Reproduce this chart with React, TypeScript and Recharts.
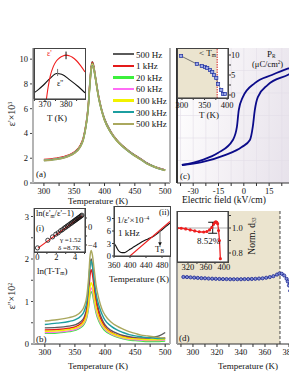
import React from "react";
import {
  LineChart,
  Line,
  XAxis,
  YAxis,
  ReferenceArea,
  ReferenceLine,
  ReferenceDot,
} from "recharts";

const FONT = '"Liberation Serif", "Times New Roman", serif';

// ---------- (a) / (b) frequency series ----------
const freqNames = ["500 Hz", "1 kHz", "20 kHz", "60 kHz", "100 kHz", "300 kHz", "500 kHz"];
const freqColors = ["#5a5a5a", "#e41a1a", "#3cf03c", "#ff6cf5", "#f2f200", "#1c9ea0", "#aaa85e"];

const tempA = [300, 320, 340, 350, 360, 365, 370, 373, 376, 378, 380, 382, 385, 390, 395, 400, 410, 420, 430, 440, 450, 460, 470, 480, 490, 500];
const epsA_500Hz = [1.85, 1.95, 2.2, 2.45, 3.0, 3.6, 4.9, 6.2, 8.3, 9.4, 9.8, 9.5, 8.6, 7.1, 6.0, 5.2, 4.2, 3.5, 3.0, 2.6, 2.25, 1.95, 1.62, 1.38, 1.2, 1.05];
const epsA_1k = [1.9, 2.0, 2.24, 2.5, 3.05, 3.65, 4.95, 6.2, 8.25, 9.35, 9.75, 9.45, 8.55, 7.05, 5.95, 5.15, 4.15, 3.47, 2.98, 2.58, 2.23, 1.93, 1.6, 1.37, 1.19, 1.05];
const epsA_20k = [1.85, 1.95, 2.19, 2.44, 2.98, 3.56, 4.85, 6.1, 8.15, 9.25, 9.65, 9.38, 8.5, 7.0, 5.92, 5.12, 4.13, 3.45, 2.96, 2.56, 2.21, 1.92, 1.59, 1.36, 1.18, 1.04];
const epsA_60k = [1.84, 1.94, 2.18, 2.43, 2.96, 3.54, 4.82, 6.05, 8.1, 9.2, 9.6, 9.34, 8.47, 6.98, 5.9, 5.1, 4.12, 3.44, 2.95, 2.55, 2.2, 1.91, 1.58, 1.35, 1.17, 1.03];
const epsA_100k = [1.83, 1.93, 2.17, 2.42, 2.95, 3.52, 4.8, 6.0, 8.05, 9.15, 9.55, 9.3, 8.45, 6.96, 5.88, 5.08, 4.1, 3.43, 2.94, 2.54, 2.19, 1.9, 1.57, 1.34, 1.16, 1.03];
const epsA_300k = [1.82, 1.92, 2.16, 2.41, 2.93, 3.5, 4.77, 5.95, 8.0, 9.1, 9.5, 9.26, 8.42, 6.94, 5.86, 5.06, 4.09, 3.42, 2.93, 2.53, 2.18, 1.89, 1.56, 1.33, 1.15, 1.02];
const epsA_500k = [1.8, 1.9, 2.14, 2.39, 2.9, 3.47, 4.73, 5.9, 7.95, 9.05, 9.45, 9.22, 8.4, 6.92, 5.84, 5.04, 4.08, 3.41, 2.92, 2.52, 2.17, 1.88, 1.55, 1.32, 1.14, 1.01];

const tempB = [300, 320, 340, 350, 360, 365, 370, 373, 375, 377, 379, 382, 385, 390, 395, 400, 410, 420, 430, 440, 450, 460, 470, 480, 490, 500];
const lossB_500Hz = [0.38, 0.39, 0.42, 0.45, 0.53, 0.62, 0.88, 1.35, 1.85, 2.0, 1.85, 1.45, 1.1, 0.78, 0.58, 0.45, 0.32, 0.25, 0.2, 0.17, 0.15, 0.14, 0.14, 0.16, 0.19, 0.27];
const lossB_1k = [0.33, 0.34, 0.37, 0.4, 0.48, 0.57, 0.8, 1.2, 1.6, 1.75, 1.65, 1.32, 1.0, 0.7, 0.52, 0.4, 0.28, 0.21, 0.17, 0.14, 0.12, 0.11, 0.11, 0.11, 0.12, 0.14];
const lossB_20k = [0.25, 0.26, 0.29, 0.32, 0.39, 0.46, 0.63, 0.88, 1.14, 1.23, 1.18, 0.96, 0.74, 0.53, 0.4, 0.31, 0.22, 0.16, 0.12, 0.09, 0.08, 0.07, 0.06, 0.06, 0.06, 0.07];
const lossB_60k = [0.27, 0.28, 0.31, 0.34, 0.41, 0.49, 0.67, 0.93, 1.22, 1.32, 1.27, 1.03, 0.8, 0.57, 0.43, 0.34, 0.24, 0.18, 0.14, 0.11, 0.1, 0.09, 0.08, 0.08, 0.08, 0.09];
const lossB_100k = [0.3, 0.31, 0.34, 0.37, 0.44, 0.52, 0.72, 1.0, 1.32, 1.44, 1.38, 1.12, 0.87, 0.62, 0.47, 0.37, 0.26, 0.2, 0.16, 0.13, 0.12, 0.11, 0.1, 0.1, 0.1, 0.11];
const lossB_300k = [0.46, 0.49, 0.53, 0.57, 0.66, 0.76, 1.02, 1.45, 1.85, 1.95, 1.85, 1.5, 1.2, 0.9, 0.7, 0.56, 0.42, 0.33, 0.27, 0.22, 0.19, 0.17, 0.15, 0.14, 0.13, 0.13];
const lossB_500k = [0.54, 0.57, 0.62, 0.66, 0.76, 0.87, 1.15, 1.6, 2.05, 2.2, 2.1, 1.75, 1.4, 1.05, 0.82, 0.68, 0.52, 0.42, 0.35, 0.29, 0.25, 0.21, 0.19, 0.17, 0.15, 0.14];

// inset (a): eps' and eps'' near Tm
const insRedT = [370.7, 371.5, 372.5, 374, 375.5, 377, 378.5, 380, 381.5, 383, 385, 387, 389];
const insRedV = [0, 2.3, 4.5, 6.4, 7.5, 8.1, 8.45, 8.6, 8.5, 8.2, 7.5, 6.5, 5.3];
const insBlkT = [364.8, 367, 369.2, 372.4, 375.6, 377.9, 381.9, 385.9, 389];
const insBlkV = [1.2, 1.9, 2.7, 4.05, 5.0, 4.85, 3.7, 2.4, 1.2];

// inset (i): modified Curie-Weiss fit
const cwX = [0, 1.1, 1.6, 1.95, 2.2, 2.45, 2.65, 2.85, 3.0, 3.15, 3.3, 3.45, 3.6, 3.72, 3.85, 3.95, 4.05, 4.15, 4.25, 4.35, 4.45, 4.55, 4.65, 4.72];
const cwY = [-4.65, -2.95, -2.2, -1.6, -1.3, -0.85, -0.6, -0.25, -0.05, 0.2, 0.4, 0.66, 0.85, 1.07, 1.23, 1.42, 1.55, 1.73, 1.85, 2.03, 2.15, 2.34, 2.46, 2.62];
const cwFitX = [0.05, 4.75];
const cwFitY = [-4.7, 2.52];

// inset (ii): 1/eps'
const invT = [360, 364, 368, 372, 376, 380, 386, 392, 400, 410, 420, 430, 440, 450, 460, 470, 480, 490, 500];
const invV = [3.1, 2.5, 1.8, 1.2, 0.9, 0.8, 0.8, 1.1, 1.6, 2.2, 2.8, 3.4, 3.9, 4.3, 4.8, 5.5, 6.3, 7.1, 7.9];
const invFitT = [400, 500];
const invFitV = [0, 8.3];

// (c): P-E loop
const upperE = [-36.7, -24.9, -15.4, -6.5, -4.1, -3.0, -0.6, 6.5, 16.6, 26.0, 40];
const upperP = [-22.0, -19.8, -16.7, -10.9, -5.1, 2.4, 8.2, 14.4, 18.0, 20.8, 23.5];
const lowerE = [-36.7, -24.9, -11.2, -1.2, 3.6, 5.3, 6.5, 8.3, 14.2, 26.0, 40];
const lowerP = [-22.0, -20.7, -17.6, -14.0, -10.9, -5.1, 2.4, 8.2, 13.6, 18.0, 23.5];
const gridE = [-37.5, -30, -22.5, -15, -7.5, 0, 7.5, 15, 22.5, 30, 37.5];
const gridP = [-20, -10, 0, 10, 20];

// inset (c): remnant polarization vs T
const prT = [298, 333, 344, 351, 356, 362, 367, 371, 376, 380, 387, 391, 395];
const prV = [9.75, 7.75, 7.25, 7.0, 6.75, 6.25, 5.75, 5.0, 4.25, 2.75, 1.25, 0.25, 0.25];

// (d): d33 vs T
const d33T = [292, 295, 298, 301, 304, 307, 310, 313, 316, 319, 322, 325, 328, 331, 334, 337, 340, 343, 346, 349, 352, 355, 358, 361, 364, 367, 370, 372, 374, 376, 378, 379, 380, 381, 383];
const d33V = [0.504, 0.503, 0.501, 0.499, 0.497, 0.495, 0.494, 0.492, 0.491, 0.49, 0.489, 0.488, 0.488, 0.487, 0.487, 0.487, 0.487, 0.488, 0.488, 0.489, 0.49, 0.492, 0.494, 0.498, 0.503, 0.51, 0.522, 0.53, 0.528, 0.515, 0.49, 0.47, 0.44, 0.4, 0.33];

// inset (d): normalised d33
const ndT = [296, 305, 315, 325, 335, 345, 355, 362, 368, 373, 377, 380, 382, 384, 386, 388, 390, 392];
const ndV = [1.0, 0.998, 0.993, 0.985, 0.977, 0.97, 0.968, 0.972, 0.985, 1.005, 1.03, 1.045, 1.05, 1.046, 1.035, 0.98, 0.9, 0.755];

// ---------- helpers ----------
const seriesA = [epsA_500Hz, epsA_1k, epsA_20k, epsA_60k, epsA_100k, epsA_300k, epsA_500k];
const seriesB = [lossB_500Hz, lossB_1k, lossB_20k, lossB_60k, lossB_100k, lossB_300k, lossB_500k];

function table(xs: number[], cols: number[][]) {
  return xs.map((x, i) => {
    const r: any = { x };
    cols.forEach((c, k) => (r["s" + k] = c[i]));
    return r;
  });
}
function pairs(xs: number[], ys: number[]) {
  return xs.map((x, i) => ({ x, y: ys[i] }));
}

const tk = { fontSize: 8.5, fill: "#111", fontFamily: FONT };
const TAN = "#ebe4cf";
const tickT = [300, 325, 350, 375, 400, 425, 450, 475, 500];
const only = (step: number) => (v: number) => (Math.abs(v % step) < 1e-6 ? String(v) : "");

function Box({ x, y, children }: any) {
  return <div style={{ position: "absolute", left: x, top: y }}>{children}</div>;
}
function Rect({ x, y, w, h, style }: any) {
  return (
    <div
      style={{ position: "absolute", left: x, top: y, width: w, height: h, boxSizing: "border-box", pointerEvents: "none", ...style }}
    />
  );
}
function Txt({ x, y, s = 9, c = "#111", mid = false, rot = false, children }: any) {
  const tf = rot ? "translate(-50%,-50%) rotate(-90deg)" : mid ? "translate(-50%,-50%)" : "translateY(-50%)";
  return (
    <div style={{ position: "absolute", left: x, top: y, fontSize: s, color: c, whiteSpace: "nowrap", lineHeight: 1, transform: tf, fontFamily: FONT }}>
      {children}
    </div>
  );
}
const sub = (t: string) => <sub style={{ fontSize: "0.6em", verticalAlign: "-0.25em" }}>{t}</sub>;
const sup = (t: string) => <sup style={{ fontSize: "0.6em", verticalAlign: "0.5em" }}>{t}</sup>;

const squareDot = (p: any) => (
  <rect key={p.index} x={p.cx - 1.6} y={p.cy - 1.6} width={3.2} height={3.2} fill="#9aa6e6" stroke="#1f2f9f" strokeWidth={0.7} />
);

export default function App() {
  const rowsA = table(tempA, seriesA);
  const rowsB = table(tempB, seriesB);

  return (
    <div style={{ position: "absolute", left: 0, top: 0, width: 289, height: 374, overflow: "hidden", background: "#fff", fontFamily: FONT }}>
      {/* ===== (a) ===== */}
      <Box x={0} y={40}>
        <LineChart width={175} height={170} data={rowsA} margin={{ top: 8, right: 5, left: 0, bottom: 0 }}>
          <XAxis dataKey="x" type="number" domain={[282, 508]} ticks={tickT} interval={0} tickFormatter={only(50)} height={27} tick={tk} tickSize={3} stroke="#333" allowDataOverflow />
          <YAxis type="number" domain={[0, 10.9]} ticks={[0, 2, 4, 6, 8, 10]} interval={0} width={33} tick={tk} tickSize={3} stroke="#444" axisLine={false} allowDataOverflow />
          {freqNames.map((n, k) => (
            <Line key={n} dataKey={"s" + k} type="monotone" stroke={freqColors[k]} strokeWidth={1.4} dot={false} isAnimationActive={false} />
          ))}
        </LineChart>
      </Box>
      <Rect x={32} y={48} w={139} h={135} style={{ borderLeft: "2px solid #b4b4b4", borderRight: "2px solid #b4b4b4" }} />
      {/* inset (a) */}
      <Rect x={34} y={48} w={51} h={51} style={{ background: "#fff" }} />
      <Box x={24} y={44}>
        <LineChart width={66} height={68} margin={{ top: 4, right: 5, left: 0, bottom: 0 }}>
          <XAxis dataKey="x" type="number" domain={[364.8, 389]} ticks={[365, 370, 375, 380, 385]} interval={0} tickFormatter={only(10)} height={13} tick={tk} tickSize={2} tickMargin={0} stroke="#333" allowDataOverflow />
          <YAxis type="number" domain={[0, 10]} ticks={[2, 5, 8]} tick={false} width={10} tickSize={2} stroke="#333" allowDataOverflow />
          <Line data={pairs(insBlkT, insBlkV)} dataKey="y" type="monotone" stroke="#111" strokeWidth={1.1} dot={false} isAnimationActive={false} />
          <Line data={pairs(insRedT, insRedV)} dataKey="y" type="monotone" stroke="#f01c1c" strokeWidth={1.1} dot={false} isAnimationActive={false} />
          <ReferenceLine segment={[{ x: 380, y: 7.8 }, { x: 380, y: 9.3 }]} stroke="#111" strokeWidth={1} />
          <ReferenceLine segment={[{ x: 376, y: 4.5 }, { x: 376, y: 5.9 }]} stroke="#777" strokeWidth={1} />
        </LineChart>
      </Box>
      <Rect x={34} y={48} w={52} h={52} style={{ border: "1px solid #444" }} />
      <Txt x={47} y={54} s={8} c="#f01c1c">ε'</Txt>
      <Txt x={57} y={84} s={8}>ε''</Txt>
      <Txt x={57} y={118} s={9} mid>T (K)</Txt>
      {/* legend */}
      {freqNames.map((n, k) => (
        <React.Fragment key={n}>
          <Rect x={113} y={53 + k * 11.6} w={21} h={2.4} style={{ background: freqColors[k] }} />
          <Txt x={136} y={54.5 + k * 11.6} s={9}>{n}</Txt>
        </React.Fragment>
      ))}
      <Txt x={12} y={114} s={10} rot>ε'×10{sup("3")}</Txt>
      <Txt x={36} y={174} s={9}>(a)</Txt>
      <Txt x={98} y={201} s={9} mid>Temperature (K)</Txt>

      {/* ===== (c) ===== */}
      <Rect x={177} y={48} w={112} h={135} style={{ background: "linear-gradient(100deg, #ffffff 0%, #f5f2f6 45%, #e7e2eb 100%)" }} />
      <Box x={172} y={40}>
        <LineChart width={145} height={170} margin={{ top: 8, right: 5, left: 5, bottom: 0 }}>
          <XAxis dataKey="x" type="number" domain={[-39.6, 40.4]} ticks={gridE} interval={0} tickFormatter={(v: number) => (v % 15 === 0 && v < 20 ? String(v) : "")} height={27} tick={tk} tickSize={3} stroke="#333" allowDataOverflow />
          <YAxis type="number" domain={[-30, 30]} hide allowDataOverflow />
          {gridE.map((e) => (
            <ReferenceLine key={"ge" + e} x={e} stroke="#e2dde8" strokeWidth={0.6} />
          ))}
          {gridP.map((p) => (
            <ReferenceLine key={"gp" + p} y={p} stroke="#e2dde8" strokeWidth={0.6} />
          ))}
          <Line data={pairs(upperE, upperP)} dataKey="y" type="monotone" stroke="#0b0b8a" strokeWidth={1.8} dot={false} isAnimationActive={false} />
          <Line data={pairs(lowerE, lowerP)} dataKey="y" type="monotone" stroke="#0b0b8a" strokeWidth={1.8} dot={false} isAnimationActive={false} />
        </LineChart>
      </Box>
      <Rect x={176} y={48} w={2} h={135} style={{ background: "#333" }} />
      {/* inset (c) */}
      <Rect x={177} y={48} w={51} h={50} style={{ background: "#fff" }} />
      <Box x={172} y={44}>
        <LineChart width={78} height={76} margin={{ top: 4, right: 0, left: 5, bottom: 0 }}>
          <ReferenceArea x1={289} x2={378} fill={TAN} fillOpacity={1} stroke="none" ifOverflow="hidden" />
          <ReferenceLine x={378} stroke="#d42020" strokeDasharray="1.5 1" strokeWidth={1} />
          <XAxis dataKey="x" type="number" domain={[289, 402]} ticks={[300, 325, 350, 375, 400]} interval={0} tickFormatter={only(50)} height={22} tick={tk} tickSize={2} tickMargin={2} stroke="#333" allowDataOverflow />
          <YAxis orientation="right" type="number" domain={[-0.75, 11.75]} ticks={[0, 2.5, 5, 7.5, 10]} interval={0} tickFormatter={only(5)} width={22} tick={tk} tickSize={3} tickMargin={0} stroke="#333" allowDataOverflow />
          <Line data={pairs(prT, prV)} dataKey="y" type="linear" stroke="#555" strokeWidth={0.8} dot={squareDot} isAnimationActive={false} />
        </LineChart>
      </Box>
      <Rect x={177} y={48} w={52} h={51} style={{ border: "1px solid #444" }} />
      <Txt x={199} y={54} s={9}>&lt; T{sub("m")}</Txt>
      <Txt x={267} y={55} s={9}>P{sub("R")}</Txt>
      <Txt x={252} y={64} s={8.5}>(μC/cm{sup("2")})</Txt>
      <Txt x={209} y={115} s={9} mid>T (K)</Txt>
      <Txt x={180} y={176} s={9}>(c)</Txt>
      <Txt x={182} y={201} s={9.5}>Electric field (kV/cm)</Txt>

      {/* ===== (b) ===== */}
      <Box x={0} y={200}>
        <LineChart width={175} height={160} data={rowsB} margin={{ top: 8, right: 5, left: 0, bottom: 0 }}>
          <XAxis dataKey="x" type="number" domain={[282, 508]} ticks={tickT} interval={0} tickFormatter={only(50)} height={16} tick={tk} tickSize={3} stroke="#333" allowDataOverflow />
          <YAxis type="number" domain={[0, 3.2]} ticks={[0, 0.5, 1, 1.5, 2, 2.5, 3]} interval={0} tickFormatter={only(1)} width={34} tick={tk} tickSize={3} stroke="#444" axisLine={false} allowDataOverflow />
          {freqNames.map((n, k) => (
            <Line key={n} dataKey={"s" + k} type="monotone" stroke={freqColors[k]} strokeWidth={1.4} dot={false} isAnimationActive={false} />
          ))}
        </LineChart>
      </Box>
      <Rect x={33} y={208} w={138} h={136} style={{ borderLeft: "2px solid #b4b4b4", borderRight: "2px solid #b4b4b4" }} />
      {/* inset (i) */}
      <Rect x={34} y={208} w={51} h={44} style={{ background: "#fff" }} />
      <Box x={24} y={204}>
        <LineChart width={80} height={62} margin={{ top: 4, right: 0, left: 10, bottom: 0 }}>
          <XAxis dataKey="x" type="number" domain={[-0.37, 5.05]} ticks={[0, 1, 2, 3, 4, 5]} interval={0} tickFormatter={only(2)} height={14} tick={tk} tickSize={2} tickMargin={0} stroke="#333" allowDataOverflow />
          <YAxis orientation="right" type="number" domain={[-5.56, 4.22]} ticks={[-4, -2, 0, 2]} interval={0} tickFormatter={(v: number) => (v === 0 ? "0" : v === -4 ? "−4" : "")} width={19} tick={tk} tickSize={2} tickMargin={1} stroke="#333" allowDataOverflow />
          <Line data={pairs(cwX, cwY)} dataKey="y" stroke="none" dot={{ r: 2.1, fill: "none", stroke: "#111", strokeWidth: 0.8 }} isAnimationActive={false} />
          <Line data={pairs(cwFitX, cwFitY)} dataKey="y" type="linear" stroke="#ee1c1c" strokeWidth={1.2} dot={false} isAnimationActive={false} />
        </LineChart>
      </Box>
      <Rect x={34} y={208} w={52} h={45} style={{ border: "1px solid #444" }} />
      <Txt x={36} y={214} s={8.5}>ln(ε'{sub("m")}/ε'−1)</Txt>
      <Txt x={36} y={228} s={8.5}>(i)</Txt>
      <Txt x={60} y={239.5} s={7}>γ =1.52</Txt>
      <Txt x={58} y={247.5} s={7}>δ =8.7K</Txt>
      <Txt x={37} y={272} s={9}>ln(T-T{sub("m")})</Txt>
      {/* inset (ii) */}
      <Rect x={114} y={206} w={56} h={50} style={{ background: "#fff" }} />
      <Box x={100} y={200}>
        <LineChart width={75} height={74} margin={{ top: 6, right: 5, left: 0, bottom: 0 }}>
          <XAxis dataKey="x" type="number" domain={[360, 500]} ticks={[360, 400, 440, 480]} interval={0} height={18} tick={tk} tickSize={2} tickMargin={4} stroke="#333" allowDataOverflow />
          <YAxis type="number" domain={[0, 12]} ticks={[0, 3, 6, 9]} interval={0} width={14} tick={tk} tickSize={2} tickMargin={1} stroke="#333" allowDataOverflow />
          <Line data={pairs(invT, invV)} dataKey="y" type="monotone" stroke="#111" strokeWidth={1.1} dot={false} isAnimationActive={false} />
          <Line data={pairs(invFitT, invFitV)} dataKey="y" type="linear" stroke="#ee1c1c" strokeWidth={1.1} dot={false} isAnimationActive={false} />
          <ReferenceLine segment={[{ x: 475, y: 6.0 }, { x: 475, y: 3.2 }]} stroke="#777" strokeWidth={1} />
          <ReferenceDot
            x={475}
            y={2.6}
            r={2}
            shape={(p: any) => <polygon points={`${p.cx - 1.8},${p.cy - 3} ${p.cx + 1.8},${p.cy - 3} ${p.cx},${p.cy + 1}`} fill="#111" />}
          />
        </LineChart>
      </Box>
      <Rect x={114} y={206} w={57} h={51} style={{ border: "1px solid #444" }} />
      <Txt x={117} y={220} s={9}>1/ε'×10{sup("−4")}</Txt>
      <Txt x={159} y={212} s={8.5}>(ii)</Txt>
      <Txt x={118} y={233} s={9}>1 kHz</Txt>
      <Txt x={155} y={250} s={9}>T{sub("B")}</Txt>
      <Txt x={139} y={279} s={9} mid>Temperature (K)</Txt>
      <Txt x={12} y={296} s={10} rot>ε''×10{sup("2")}</Txt>
      <Txt x={36} y={339} s={9}>(b)</Txt>
      <Txt x={98} y={366} s={9} mid>Temperature (K)</Txt>

      {/* ===== (d) ===== */}
      <Box x={172} y={205}>
        <LineChart width={146} height={155} margin={{ top: 6, right: 5, left: 5, bottom: 0 }}>
          <ReferenceArea x1={286.7} x2={372.5} fill={TAN} fillOpacity={1} stroke="none" ifOverflow="hidden" />
          <ReferenceLine x={372.5} stroke="#444" strokeDasharray="3 2" strokeWidth={1} />
          <XAxis dataKey="x" type="number" domain={[286.7, 400]} ticks={[290, 300, 310, 320, 330, 340, 350, 360, 370, 380, 390, 400]} interval={0} tickFormatter={(v: number) => (v % 20 === 0 && v < 390 ? String(v) : "")} height={16} tick={tk} tickSize={3} stroke="#333" allowDataOverflow />
          <YAxis type="number" domain={[0, 1]} hide allowDataOverflow />
          <Line data={pairs(d33T, d33V)} dataKey="y" type="monotone" stroke="#1a2590" strokeWidth={1} dot={{ r: 1.6, fill: "#7f8dd6", stroke: "#1a2590", strokeWidth: 0.8 }} isAnimationActive={false} />
        </LineChart>
      </Box>
      <Rect x={176} y={211} w={2} h={133} style={{ background: "#999" }} />
      {/* inset (d) */}
      <Rect x={177} y={211} w={51} h={51} style={{ background: "#fff" }} />
      <Box x={172} y={207}>
        <LineChart width={78} height={68} margin={{ top: 4, right: 0, left: 5, bottom: 0 }}>
          <ReferenceLine y={1} stroke="#999" strokeWidth={0.8} />
          <XAxis dataKey="x" type="number" domain={[295.6, 409]} ticks={[320, 340, 360, 380, 400]} interval={0} tickFormatter={only(40)} height={13} tick={tk} tickSize={2} tickMargin={0} stroke="#333" allowDataOverflow />
          <YAxis orientation="right" type="number" domain={[0.728, 1.136]} ticks={[0.8, 0.9, 1.0, 1.1]} interval={0} tickFormatter={(v: number) => (v === 0.8 ? "0.8" : v === 1 ? "1.0" : "")} width={22} tick={tk} tickSize={3} tickMargin={1} stroke="#333" allowDataOverflow />
          <Line data={pairs(ndT, ndV)} dataKey="y" type="monotone" stroke="#ee2020" strokeWidth={1.3} dot={{ r: 0.9, fill: "#ee2020", stroke: "#ee2020" }} isAnimationActive={false} />
          <ReferenceLine segment={[{ x: 375, y: 0.958 }, { x: 375, y: 1.046 }]} stroke="#111" strokeWidth={1} />
          <ReferenceLine segment={[{ x: 365, y: 1.046 }, { x: 385, y: 1.046 }]} stroke="#111" strokeWidth={1} />
          <ReferenceLine segment={[{ x: 365, y: 0.958 }, { x: 385, y: 0.958 }]} stroke="#111" strokeWidth={1} />
        </LineChart>
      </Box>
      <Rect x={177} y={211} w={52} h={52} style={{ border: "1px solid #444" }} />
      <Txt x={197} y={241} s={9}>8.52%</Txt>
      <Txt x={253} y={236} s={9.5} rot>Norm. d{sub("33")}</Txt>
      <Txt x={179} y={338} s={9}>(d)</Txt>
      <Txt x={248} y={366} s={9} mid>Temperature (K)</Txt>
    </div>
  );
}
